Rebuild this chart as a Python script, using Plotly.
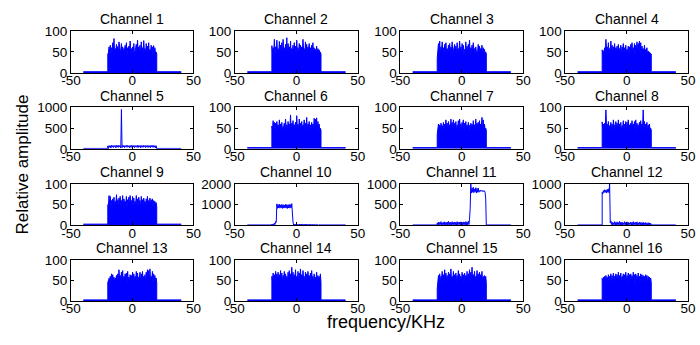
import numpy as np
import plotly.graph_objects as go

# ---------------- data ----------------
CHANNELS = [f"Channel {i}" for i in range(1, 17)]
X_TICKS = [-50, 0, 50]
BAND_LO, BAND_HI = -20, 20      # occupied band (kHz)
OUTER_LO, OUTER_HI = -40, 40    # analysed span (kHz)

# shared lower-envelope values of the dense spectrum (one per spectral line)
TROUGH = [48, 52, 44, 55, 50, 46, 53, 49, 42, 56, 47, 51, 45, 54, 50, 43, 52, 48, 55, 46,
          50, 44, 53, 49, 47, 55, 42, 51, 48, 54, 45, 50, 52, 46, 49, 53, 44, 51, 47, 45]

PEAKS = {
    1: [45, 62, 66, 60, 72, 82, 58, 68, 63, 74, 55, 70, 62, 58, 66, 72, 60, 64, 76, 58,
        62, 70, 55, 68, 78, 62, 66, 74, 60, 77, 58, 70, 64, 72, 56, 66, 62, 65, 60, 50],
    2: [65, 60, 80, 62, 78, 58, 75, 66, 72, 80, 60, 68, 84, 70, 62, 76, 58, 66, 72, 64,
        78, 60, 70, 66, 62, 80, 58, 74, 68, 62, 70, 60, 66, 72, 60, 56, 64, 58, 55, 50],
    3: [35, 70, 76, 62, 74, 60, 68, 72, 58, 66, 70, 62, 74, 56, 68, 64, 72, 58, 76, 62,
        70, 66, 56, 74, 64, 68, 78, 60, 66, 72, 58, 62, 52, 68, 64, 58, 66, 60, 56, 50],
    4: [55, 52, 60, 80, 62, 72, 58, 76, 66, 62, 70, 60, 64, 68, 58, 66, 62, 70, 60, 66,
        56, 64, 62, 68, 72, 60, 70, 66, 74, 70, 76, 72, 64, 58, 66, 56, 60, 52, 50, 48],
    5: [70, 80, 75, 85, 78, 82, 76, 88, 80, 84, 79, 950, 86, 80, 78, 84, 82, 76, 80, 85,
        78, 82, 80, 76, 84, 79, 82, 80, 77, 83, 80, 78, 82, 76, 80, 84, 79, 81, 78, 75],
    6: [55, 68, 64, 62, 66, 58, 70, 60, 64, 54, 62, 72, 58, 66, 60, 82, 62, 68, 58, 64,
        80, 60, 72, 62, 66, 58, 70, 62, 76, 60, 66, 58, 64, 60, 74, 72, 75, 66, 60, 50],
    7: [35, 60, 58, 62, 56, 64, 60, 70, 62, 66, 58, 72, 64, 70, 62, 66, 58, 68, 72, 60,
        64, 70, 62, 66, 58, 64, 56, 62, 60, 68, 58, 72, 62, 64, 68, 60, 76, 70, 60, 50],
    8: [65, 60, 62, 94, 60, 66, 56, 64, 60, 70, 58, 66, 62, 70, 60, 64, 56, 68, 60, 66,
        64, 70, 58, 62, 68, 60, 66, 70, 62, 58, 64, 68, 60, 94, 66, 60, 64, 58, 60, 50],
    9: [50, 72, 70, 60, 64, 68, 58, 74, 62, 66, 70, 60, 72, 64, 58, 70, 62, 68, 72, 60,
        70, 66, 58, 72, 64, 68, 60, 70, 62, 66, 58, 64, 70, 60, 66, 62, 64, 60, 58, 55],
    10: [60, 70, 110, 180, 1040, 1000, 1020, 990, 1010, 1000, 985, 1015, 1000, 995, 1010, 1000,
         1050, 150, 60, 55, 65, 50, 60, 55, 62, 50, 58, 52, 60, 48, 55, 50, 45, 52, 48, 40,
         45, 42, 40, 38],
    11: [60, 80, 70, 90, 65, 75, 85, 70, 80, 95, 72, 78, 88, 70, 82, 76, 90, 74, 80, 86,
         72, 84, 78, 92, 80, 100, 150, 1000, 900, 920, 880, 910, 890, 900, 840, 850, 845, 840,
         835, 640],
    12: [800, 840, 860, 850, 870, 880, 1000, 110, 80, 60, 90, 70, 85, 65, 95, 75, 80, 60, 90, 70,
         85, 75, 60, 80, 70, 90, 65, 75, 85, 60, 80, 70, 65, 75, 60, 70, 55, 65, 60, 50],
    13: [45, 55, 60, 66, 64, 58, 56, 62, 66, 76, 62, 70, 74, 60, 66, 68, 72, 58, 64, 62,
         70, 66, 60, 72, 68, 58, 70, 66, 72, 60, 64, 70, 76, 74, 78, 60, 72, 66, 62, 56],
    14: [60, 68, 64, 72, 66, 70, 64, 74, 68, 62, 72, 66, 60, 70, 74, 66, 82, 70, 64, 76,
         60, 72, 68, 78, 64, 74, 60, 70, 66, 72, 62, 68, 74, 60, 66, 58, 70, 62, 60, 66],
    15: [30, 62, 66, 60, 72, 64, 76, 68, 62, 70, 66, 78, 60, 72, 64, 68, 62, 74, 66, 60,
         70, 64, 68, 62, 72, 66, 76, 70, 82, 64, 72, 60, 74, 66, 70, 64, 72, 60, 62, 60],
    16: [55, 58, 60, 62, 58, 64, 60, 66, 62, 68, 60, 66, 64, 70, 62, 68, 60, 66, 64, 70,
         62, 68, 64, 66, 62, 70, 64, 66, 62, 68, 60, 66, 64, 62, 60, 64, 62, 60, 58, 56],
}

# channels whose lower envelope differs from the shared one
TROUGHS_SPECIAL = {
    5: [5, 40, 20, 45, 30, 50, 25, 42, 35, 48, 20, 30, 44, 28, 50, 36, 46, 22, 40, 34,
        48, 26, 44, 38, 30, 46, 24, 40, 36, 50, 28, 44, 32, 42, 26, 48, 34, 40, 20, 5],
    10: [5, 10, 40, 150, 820, 840, 830, 850, 820, 835, 845, 830, 820, 840, 830, 850,
         200, 20, 8, 15, 5, 12, 18, 6, 10, 14, 4, 20, 9, 16, 7, 11, 19, 5, 13, 8, 17, 6, 12, 3],
    11: [10, 5, 20, 8, 15, 3, 12, 18, 6, 10, 14, 4, 20, 9, 16, 7, 11, 19, 5, 13,
         8, 17, 6, 12, 15, 20, 400, 780, 800, 790, 810, 780, 800, 800, 820, 825, 820, 815, 800, 2],
    12: [760, 790, 800, 780, 800, 790, 60, 20, 8, 15, 5, 12, 18, 6, 10, 14, 4, 20, 9, 16,
         7, 11, 19, 5, 13, 8, 17, 6, 12, 15, 10, 5, 14, 8, 12, 6, 10, 4, 8, 3],
}

FLOOR = [3, 3, 3, 3, 10, 3, 3, 3, 3, 20, 10, 10, 3, 3, 3, 3]

Y_RANGE = {5: [0, 1000], 10: [0, 2000], 11: [0, 1000], 12: [0, 1000]}
Y_TICKS = {5: [0, 500, 1000], 10: [0, 1000, 2000], 11: [0, 500, 1000], 12: [0, 500, 1000]}
Y_RANGE_DEFAULT = [0, 100]
Y_TICKS_DEFAULT = [0, 50, 100]

# ---------------- layout geometry (pixels) ----------------
W, H = 700, 345
COL_X = [(62.7, 188.3), (231.0, 357.0), (400.7, 526.7), (570.0, 696.0)]
ROW_Y = [(25.0, 69.0), (105.0, 148.3), (185.0, 228.3), (264.3, 307.5)]

FONT = "Liberation Sans, Arial, Helvetica, sans-serif"
BLUE = "#0000ff"

fig = go.Figure()
annotations = []
layout = {}

for idx in range(16):
    ch = idx + 1
    r, c = divmod(idx, 4)
    peaks = PEAKS[ch]
    troughs = TROUGHS_SPECIAL.get(ch, TROUGH)
    n = len(peaks)
    band_x = np.linspace(BAND_LO, BAND_HI, 2 * n)
    band_y = np.empty(2 * n)
    band_y[0::2] = peaks
    band_y[1::2] = troughs
    fl = FLOOR[idx]
    xs = [OUTER_LO, BAND_LO] + list(band_x) + [BAND_HI, OUTER_HI]
    ys = [fl, fl] + list(band_y) + [fl, fl]

    xa = "x" if ch == 1 else f"x{ch}"
    ya = "y" if ch == 1 else f"y{ch}"
    filled = ch not in TROUGHS_SPECIAL
    fig.add_trace(go.Scatter(x=xs, y=ys, mode="lines", xaxis=xa, yaxis=ya,
                             line=dict(color=BLUE, width=1), showlegend=False,
                             fill="tozeroy" if filled else None,
                             fillcolor=BLUE, hoverinfo="skip"))

    x0, x1 = COL_X[c]
    y0, y1 = ROW_Y[r]
    xdom = [x0 / W, x1 / W]
    ydom = [1 - y1 / H, 1 - y0 / H]
    common = dict(showline=True, linecolor="black", linewidth=1, mirror="ticks",
                  ticks="inside", ticklen=3, tickcolor="black", showgrid=False,
                  zeroline=False, tickfont=dict(family=FONT, size=13.5, color="black"))
    layout["xaxis" if ch == 1 else f"xaxis{ch}"] = dict(
        domain=xdom, anchor=ya, range=[-50, 50], tickmode="array",
        tickvals=X_TICKS, ticktext=[str(v) for v in X_TICKS], ticklabelstandoff=-5, **common)
    yt = Y_TICKS.get(ch, Y_TICKS_DEFAULT)
    layout["yaxis" if ch == 1 else f"yaxis{ch}"] = dict(
        domain=ydom, anchor=xa, range=Y_RANGE.get(ch, Y_RANGE_DEFAULT), tickmode="array",
        tickvals=yt, ticktext=[str(v) for v in yt], ticklabelstandoff=0, **common)

    annotations.append(dict(text=CHANNELS[idx], xref="paper", yref="paper",
                            x=(x0 + x1) / 2 / W, y=1 - (y0 - 12) / H,
                            xanchor="center", yanchor="middle", showarrow=False,
                            font=dict(family=FONT, size=14, color="black")))

annotations.append(dict(text="Relative amplitude", xref="paper", yref="paper",
                        x=13 / W, y=1 - 165 / H, textangle=-90, xanchor="center",
                        yanchor="middle", showarrow=False,
                        font=dict(family=FONT, size=17, color="black")))
annotations.append(dict(text="frequency/KHz", xref="paper", yref="paper",
                        x=386 / W, y=1 - 329 / H, xanchor="center", yanchor="middle",
                        showarrow=False, font=dict(family=FONT, size=18, color="black")))

fig.update_layout(width=W, height=H, margin=dict(l=0, r=0, t=0, b=0),
                  paper_bgcolor="white", plot_bgcolor="white",
                  annotations=annotations, **layout)

fig.write_html("out.html")
